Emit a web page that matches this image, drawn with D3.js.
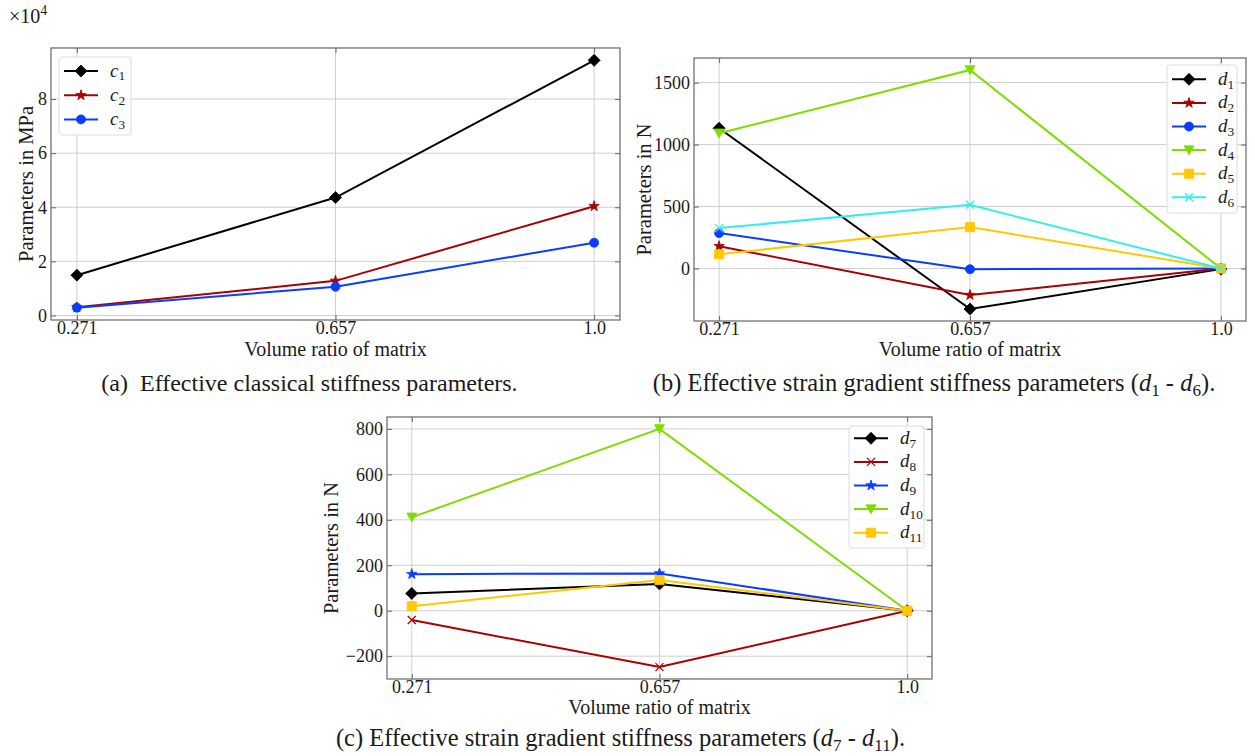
<!DOCTYPE html>
<html><head><meta charset="utf-8">
<script src="https://cdn.jsdelivr.net/npm/d3@7/dist/d3.min.js"></script>
<style>
html,body{margin:0;padding:0;background:#fff;}
svg{display:block;font-family:"Liberation Serif","Times New Roman",serif;}
</style></head>
<body><svg id="chart" width="1255" height="756"></svg>
<script>
// ---------- data ----------
const categories = ["0.271", "0.657", "1.0"];

// panel (a): classical stiffness parameters in MPa
const c_1 = [14900, 43600, 94300];
const c_2 = [3000, 12800, 40400];
const c_3 = [2900, 10600, 26900];
const ticksA = [0, 20000, 40000, 60000, 80000];

// panel (b): strain gradient parameters d1-d6 in N
const d_1 = [1132, -327, -5];
const d_2 = [180, -214, 0];
const d_3 = [286, -6, 0];
const d_4 = [1091, 1602, 0];
const d_5 = [115, 334, 0];
const d_6 = [326, 514, 0];
const ticksB = [0, 500, 1000, 1500];

// panel (c): strain gradient parameters d7-d11 in N
const d_7 = [76, 118, 0];
const d_8 = [-41, -248, 0];
const d_9 = [161, 164, 0];
const d_10 = [411, 800, 0];
const d_11 = [20, 135, 0];
const ticksC = [-200, 0, 200, 400, 600, 800];

const axisTitleX = "Volume ratio of matrix";
const captionA = "(a)  Effective classical stiffness parameters.";
const captionB = ["(b) Effective strain gradient stiffness parameters (", "1", " - ", "6", ")."];
const captionC = ["(c) Effective strain gradient stiffness parameters (", "7", " - ", "11", ")."];

// ---------- styles ----------
const COL = {black:"#000000", red:"#a80000", blue:"#0a3cff", green:"#7fdc00", gold:"#ffc800", cyan:"#33eeee"};
const svg = d3.select("#chart");
const TXT = "#1a1a1a";

function markerPath(type){
  const p = d3.path();
  if(type==="D"){ const r=6; p.moveTo(0,-r); p.lineTo(r,0); p.lineTo(0,r); p.lineTo(-r,0); p.closePath(); return p.toString(); }
  if(type==="o"){ return d3.symbol(d3.symbolCircle, 64)(); }
  if(type==="*"){ return d3.symbol(d3.symbolStar, 34)(); }
  if(type==="v"){ const r=5; p.moveTo(-r,-r*0.85); p.lineTo(r,-r*0.85); p.lineTo(0,r*0.95); p.closePath(); return p.toString(); }
  if(type==="s"){ const r=4.6; p.rect(-r,-r,2*r,2*r); return p.toString(); }
  if(type==="x"){ const r=4; p.moveTo(-r,-r); p.lineTo(r,r); p.moveTo(-r,r); p.lineTo(r,-r); return p.toString(); }
}
function drawMarker(g, type, color, x, y){
  const m = g.append("path").attr("d", markerPath(type)).attr("transform", `translate(${x},${y})`);
  if(type==="x") m.attr("fill","none").attr("stroke",color).attr("stroke-width",1.3);
  else m.attr("fill",color).attr("stroke",color).attr("stroke-width",0.8);
}
function subLabel(sel, letter, sub){
  sel.append("tspan").attr("font-style","italic").text(letter);
  sel.append("tspan").attr("font-size","0.7em").attr("dy","0.3em").text(sub);
}

function drawPanel(cfg){
  const {frame, series, ticks, fmt, legend, ylabel, ylabelX, xlabelY} = cfg;
  const g = svg.append("g");
  const x = d3.scalePoint().domain(categories).range([frame.l, frame.r]).padding(0.1);
  const all = series.flatMap(s => s.values);
  const [mn, mx] = d3.extent(all);
  const pad = (mx - mn) * 0.05;
  const y = d3.scaleLinear().domain([mn - pad, mx + pad]).range([frame.b, frame.t]);

  // grid
  g.append("g").selectAll("line").data(ticks).join("line")
    .attr("x1", frame.l).attr("x2", frame.r).attr("y1", d=>y(d)).attr("y2", d=>y(d))
    .attr("stroke", "#cfcfcf").attr("stroke-width", 1);
  g.append("g").selectAll("line").data(categories).join("line")
    .attr("y1", frame.t).attr("y2", frame.b).attr("x1", d=>x(d)).attr("x2", d=>x(d))
    .attr("stroke", "#cfcfcf").attr("stroke-width", 1);

  // axes with inward ticks
  const ax = (axis, tr) => g.append("g").attr("transform", tr).call(axis)
     .call(a => a.select(".domain").remove())
     .call(a => a.selectAll("line").attr("stroke","#666"))
     .call(a => a.selectAll("text").attr("fill",TXT).attr("font-size",18).attr("font-family",'"Liberation Serif",serif'));
  ax(d3.axisLeft(y).tickValues(ticks).tickFormat(fmt).tickSizeInner(-5).tickSizeOuter(0).tickPadding(4), `translate(${frame.l},0)`);
  ax(d3.axisRight(y).tickValues(ticks).tickFormat("").tickSizeInner(-5).tickSizeOuter(0), `translate(${frame.r},0)`);
  ax(d3.axisBottom(x).tickSizeInner(-5).tickSizeOuter(0).tickPadding(1), `translate(0,${frame.b})`);
  ax(d3.axisTop(x).tickFormat("").tickSizeInner(-5).tickSizeOuter(0), `translate(0,${frame.t})`);

  // frame
  g.append("rect").attr("x",frame.l).attr("y",frame.t).attr("width",frame.r-frame.l).attr("height",frame.b-frame.t)
    .attr("fill","none").attr("stroke","#666").attr("stroke-width",1.2);

  // series
  const line = d3.line().x((d,i)=>x(categories[i])).y(d=>y(d));
  series.forEach(s => {
    g.append("path").attr("d", line(s.values)).attr("fill","none").attr("stroke",s.color).attr("stroke-width",2);
    s.values.forEach((v,i) => drawMarker(g, s.marker, s.color, x(categories[i]), y(v)));
  });

  // legend
  const lg = g.append("g");
  lg.append("rect").attr("x",legend.x).attr("y",legend.y).attr("width",legend.w).attr("height",legend.h)
    .attr("rx",3).attr("fill","#fff").attr("fill-opacity",0.85).attr("stroke","#dcdcdc");
  series.forEach((s,i) => {
    const yy = legend.row0 + i*legend.step;
    lg.append("line").attr("x1",legend.x+5).attr("x2",legend.x+39).attr("y1",yy).attr("y2",yy).attr("stroke",s.color).attr("stroke-width",2);
    drawMarker(lg, s.marker, s.color, legend.x+22, yy);
    const t = lg.append("text").attr("x",legend.x+51).attr("y",yy+5.5).attr("font-size",19).attr("fill",TXT);
    subLabel(t, s.letter, s.sub);
  });

  // axis titles
  g.append("text").attr("x",(frame.l+frame.r)/2).attr("y",xlabelY).attr("text-anchor","middle")
    .attr("font-size",20).attr("fill",TXT).text(axisTitleX);
  g.append("text").attr("transform",`translate(${ylabelX},${(frame.t+frame.b)/2}) rotate(-90)`)
    .attr("text-anchor","middle").attr("font-size",20.5).attr("fill",TXT).text(ylabel);
  return g;
}

// panel (a)
drawPanel({
  frame:{l:51,t:48,r:620,b:320},
  series:[
    {letter:"c",sub:"1",values:c_1,color:COL.black,marker:"D"},
    {letter:"c",sub:"2",values:c_2,color:COL.red,marker:"*"},
    {letter:"c",sub:"3",values:c_3,color:COL.blue,marker:"o"}],
  ticks:ticksA, fmt:d=>d3.format("d")(d/10000),
  legend:{x:59,y:57,w:72,h:78,row0:71,step:24.2},
  ylabel:"Parameters in MPa", ylabelX:33, xlabelY:356
});
// multiplier
const mult = svg.append("text").attr("x",9).attr("y",23).attr("font-size",20).attr("fill",TXT);
mult.append("tspan").text("×10");
mult.append("tspan").attr("font-size","0.7em").attr("dy","-0.6em").text("4");

// panel (b)
drawPanel({
  frame:{l:694,t:58,r:1246,b:321},
  series:[
    {letter:"d",sub:"1",values:d_1,color:COL.black,marker:"D"},
    {letter:"d",sub:"2",values:d_2,color:COL.red,marker:"*"},
    {letter:"d",sub:"3",values:d_3,color:COL.blue,marker:"o"},
    {letter:"d",sub:"4",values:d_4,color:COL.green,marker:"v"},
    {letter:"d",sub:"5",values:d_5,color:COL.gold,marker:"s"},
    {letter:"d",sub:"6",values:d_6,color:COL.cyan,marker:"x"}],
  ticks:ticksB, fmt:d3.format("d"),
  legend:{x:1167,y:65,w:70,h:148,row0:79.3,step:23.6},
  ylabel:"Parameters in N", ylabelX:651, xlabelY:356
});

// panel (c)
drawPanel({
  frame:{l:387,t:417,r:932,b:679},
  series:[
    {letter:"d",sub:"7",values:d_7,color:COL.black,marker:"D"},
    {letter:"d",sub:"8",values:d_8,color:COL.red,marker:"x"},
    {letter:"d",sub:"9",values:d_9,color:COL.blue,marker:"*"},
    {letter:"d",sub:"10",values:d_10,color:COL.green,marker:"v"},
    {letter:"d",sub:"11",values:d_11,color:COL.gold,marker:"s"}],
  ticks:ticksC, fmt:d=>d<0?"\u2212"+Math.abs(d):String(d),
  legend:{x:849,y:426,w:75,h:122,row0:438.3,step:23.6},
  ylabel:"Parameters in N", ylabelX:338, xlabelY:714
});

// captions
svg.append("text").attr("x",309.5).attr("y",391).attr("text-anchor","middle").attr("font-size",24).attr("fill",TXT)
  .attr("xml:space","preserve").style("white-space","pre").text(captionA);
function capMath(parts, cx, cy){
  const t = svg.append("text").attr("x",cx).attr("y",cy).attr("text-anchor","middle").attr("font-size",24.5).attr("fill",TXT);
  t.append("tspan").text(parts[0]);
  t.append("tspan").attr("font-style","italic").text("d");
  t.append("tspan").attr("font-size","0.7em").attr("dy","0.3em").text(parts[1]);
  t.append("tspan").attr("dy","-0.21em").text(parts[2]);
  t.append("tspan").attr("font-style","italic").text("d");
  t.append("tspan").attr("font-size","0.7em").attr("dy","0.3em").text(parts[3]);
  t.append("tspan").attr("dy","-0.21em").text(parts[4]);
}
capMath(captionB, 934, 391);
capMath(captionC, 620.5, 746);
</script></body></html>
